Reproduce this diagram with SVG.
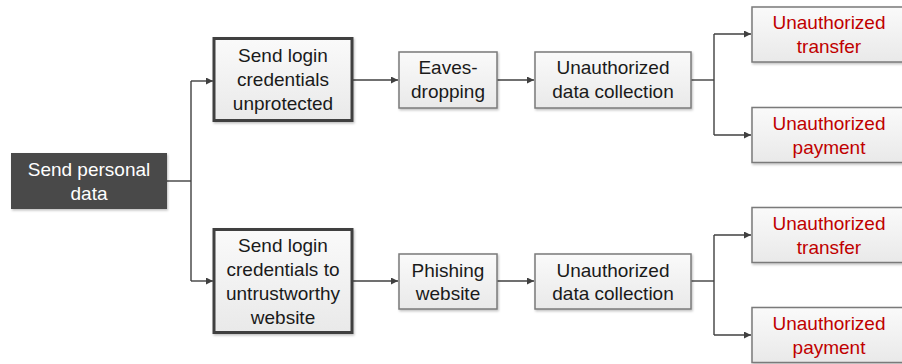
<svg xmlns="http://www.w3.org/2000/svg" width="902" height="364" viewBox="0 0 902 364">
<defs>
<linearGradient id="g" x1="0" y1="0" x2="0" y2="1">
<stop offset="0" stop-color="#fafafa"/>
<stop offset="1" stop-color="#e9e9e9"/>
</linearGradient>
<marker id="arr" viewBox="0 0 10 10" refX="10" refY="5" markerWidth="9" markerHeight="7" markerUnits="userSpaceOnUse" orient="auto">
<path d="M0,0 L10,5 L0,10 z" fill="#404040"/>
</marker>
<filter id="sh" x="-10%" y="-10%" width="130%" height="130%">
<feDropShadow dx="1" dy="1.5" stdDeviation="1" flood-color="#000" flood-opacity="0.25"/>
</filter>
</defs>
<style>
text{font-family:"Liberation Sans",Arial,sans-serif;font-size:19px;text-anchor:middle;fill:#1a1a1a}
.box{fill:url(#g);stroke:#7a7a7a;stroke-width:1.5;filter:url(#sh)}
.thick{fill:url(#g);stroke:#404040;stroke-width:3;filter:url(#sh)}
.red text,text.red{fill:#c00000}
.wt{fill:#ffffff}
.c{fill:none;stroke:#404040;stroke-width:1.4}
.a{marker-end:url(#arr)}
</style>
<g id="connectors">
<path class="c" d="M167,181 H191"/>
<path class="c" d="M191,81 V281"/>
<path class="c a" d="M191,81 H213"/>
<path class="c a" d="M191,281 H213"/>
<path class="c a" d="M352,80 H398"/>
<path class="c a" d="M352,281 H398"/>
<path class="c a" d="M497,80 H534"/>
<path class="c a" d="M497,281 H534"/>
<path class="c" d="M691,80 H714"/>
<path class="c" d="M714,34 V135"/>
<path class="c a" d="M714,34 H751"/>
<path class="c a" d="M714,135 H751"/>
<path class="c" d="M691,281 H714"/>
<path class="c" d="M714,235 V335"/>
<path class="c a" d="M714,235 H751"/>
<path class="c a" d="M714,335 H751"/>
</g>
<g id="send-personal-data">
<rect x="11" y="153" width="156" height="56" fill="#4a4a4a" filter="url(#sh)"/>
<text class="wt" x="89" y="175.5">Send personal</text>
<text class="wt" x="89" y="199.5">data</text>
</g>
<g id="send-unprotected">
<rect class="thick" x="214" y="38.5" width="138" height="82"/>
<text x="283" y="62">Send login</text>
<text x="283" y="86">credentials</text>
<text x="283" y="110">unprotected</text>
</g>
<g id="send-untrustworthy">
<rect class="thick" x="214" y="229.5" width="138" height="103"/>
<text x="283" y="251.5">Send login</text>
<text x="283" y="275.5">credentials to</text>
<text x="283" y="299.5">untrustworthy</text>
<text x="283" y="323.5">website</text>
</g>
<g id="eavesdropping">
<rect class="box" x="399" y="52" width="98" height="56"/>
<text x="448" y="74">Eaves-</text>
<text x="448" y="98">dropping</text>
</g>
<g id="collection-top">
<rect class="box" x="535" y="52" width="156" height="56"/>
<text x="613" y="74">Unauthorized</text>
<text x="613" y="98">data collection</text>
</g>
<g id="phishing">
<rect class="box" x="399" y="254" width="98" height="55"/>
<text x="448" y="276.5">Phishing</text>
<text x="448" y="300">website</text>
</g>
<g id="collection-bottom">
<rect class="box" x="535" y="254" width="156" height="55"/>
<text x="613" y="276.5">Unauthorized</text>
<text x="613" y="300">data collection</text>
</g>
<g id="transfer-top" class="red">
<rect class="box" x="752" y="7" width="154" height="55"/>
<text x="829" y="28.5">Unauthorized</text>
<text x="829" y="53">transfer</text>
</g>
<g id="payment-top" class="red">
<rect class="box" x="752" y="107.5" width="154" height="55"/>
<text x="829" y="129.5">Unauthorized</text>
<text x="829" y="154">payment</text>
</g>
<g id="transfer-bottom" class="red">
<rect class="box" x="752" y="207.5" width="154" height="55"/>
<text x="829" y="229.5">Unauthorized</text>
<text x="829" y="254">transfer</text>
</g>
<g id="payment-bottom" class="red">
<rect class="box" x="752" y="307.5" width="154" height="55"/>
<text x="829" y="329.5">Unauthorized</text>
<text x="829" y="354">payment</text>
</g>
</svg>
